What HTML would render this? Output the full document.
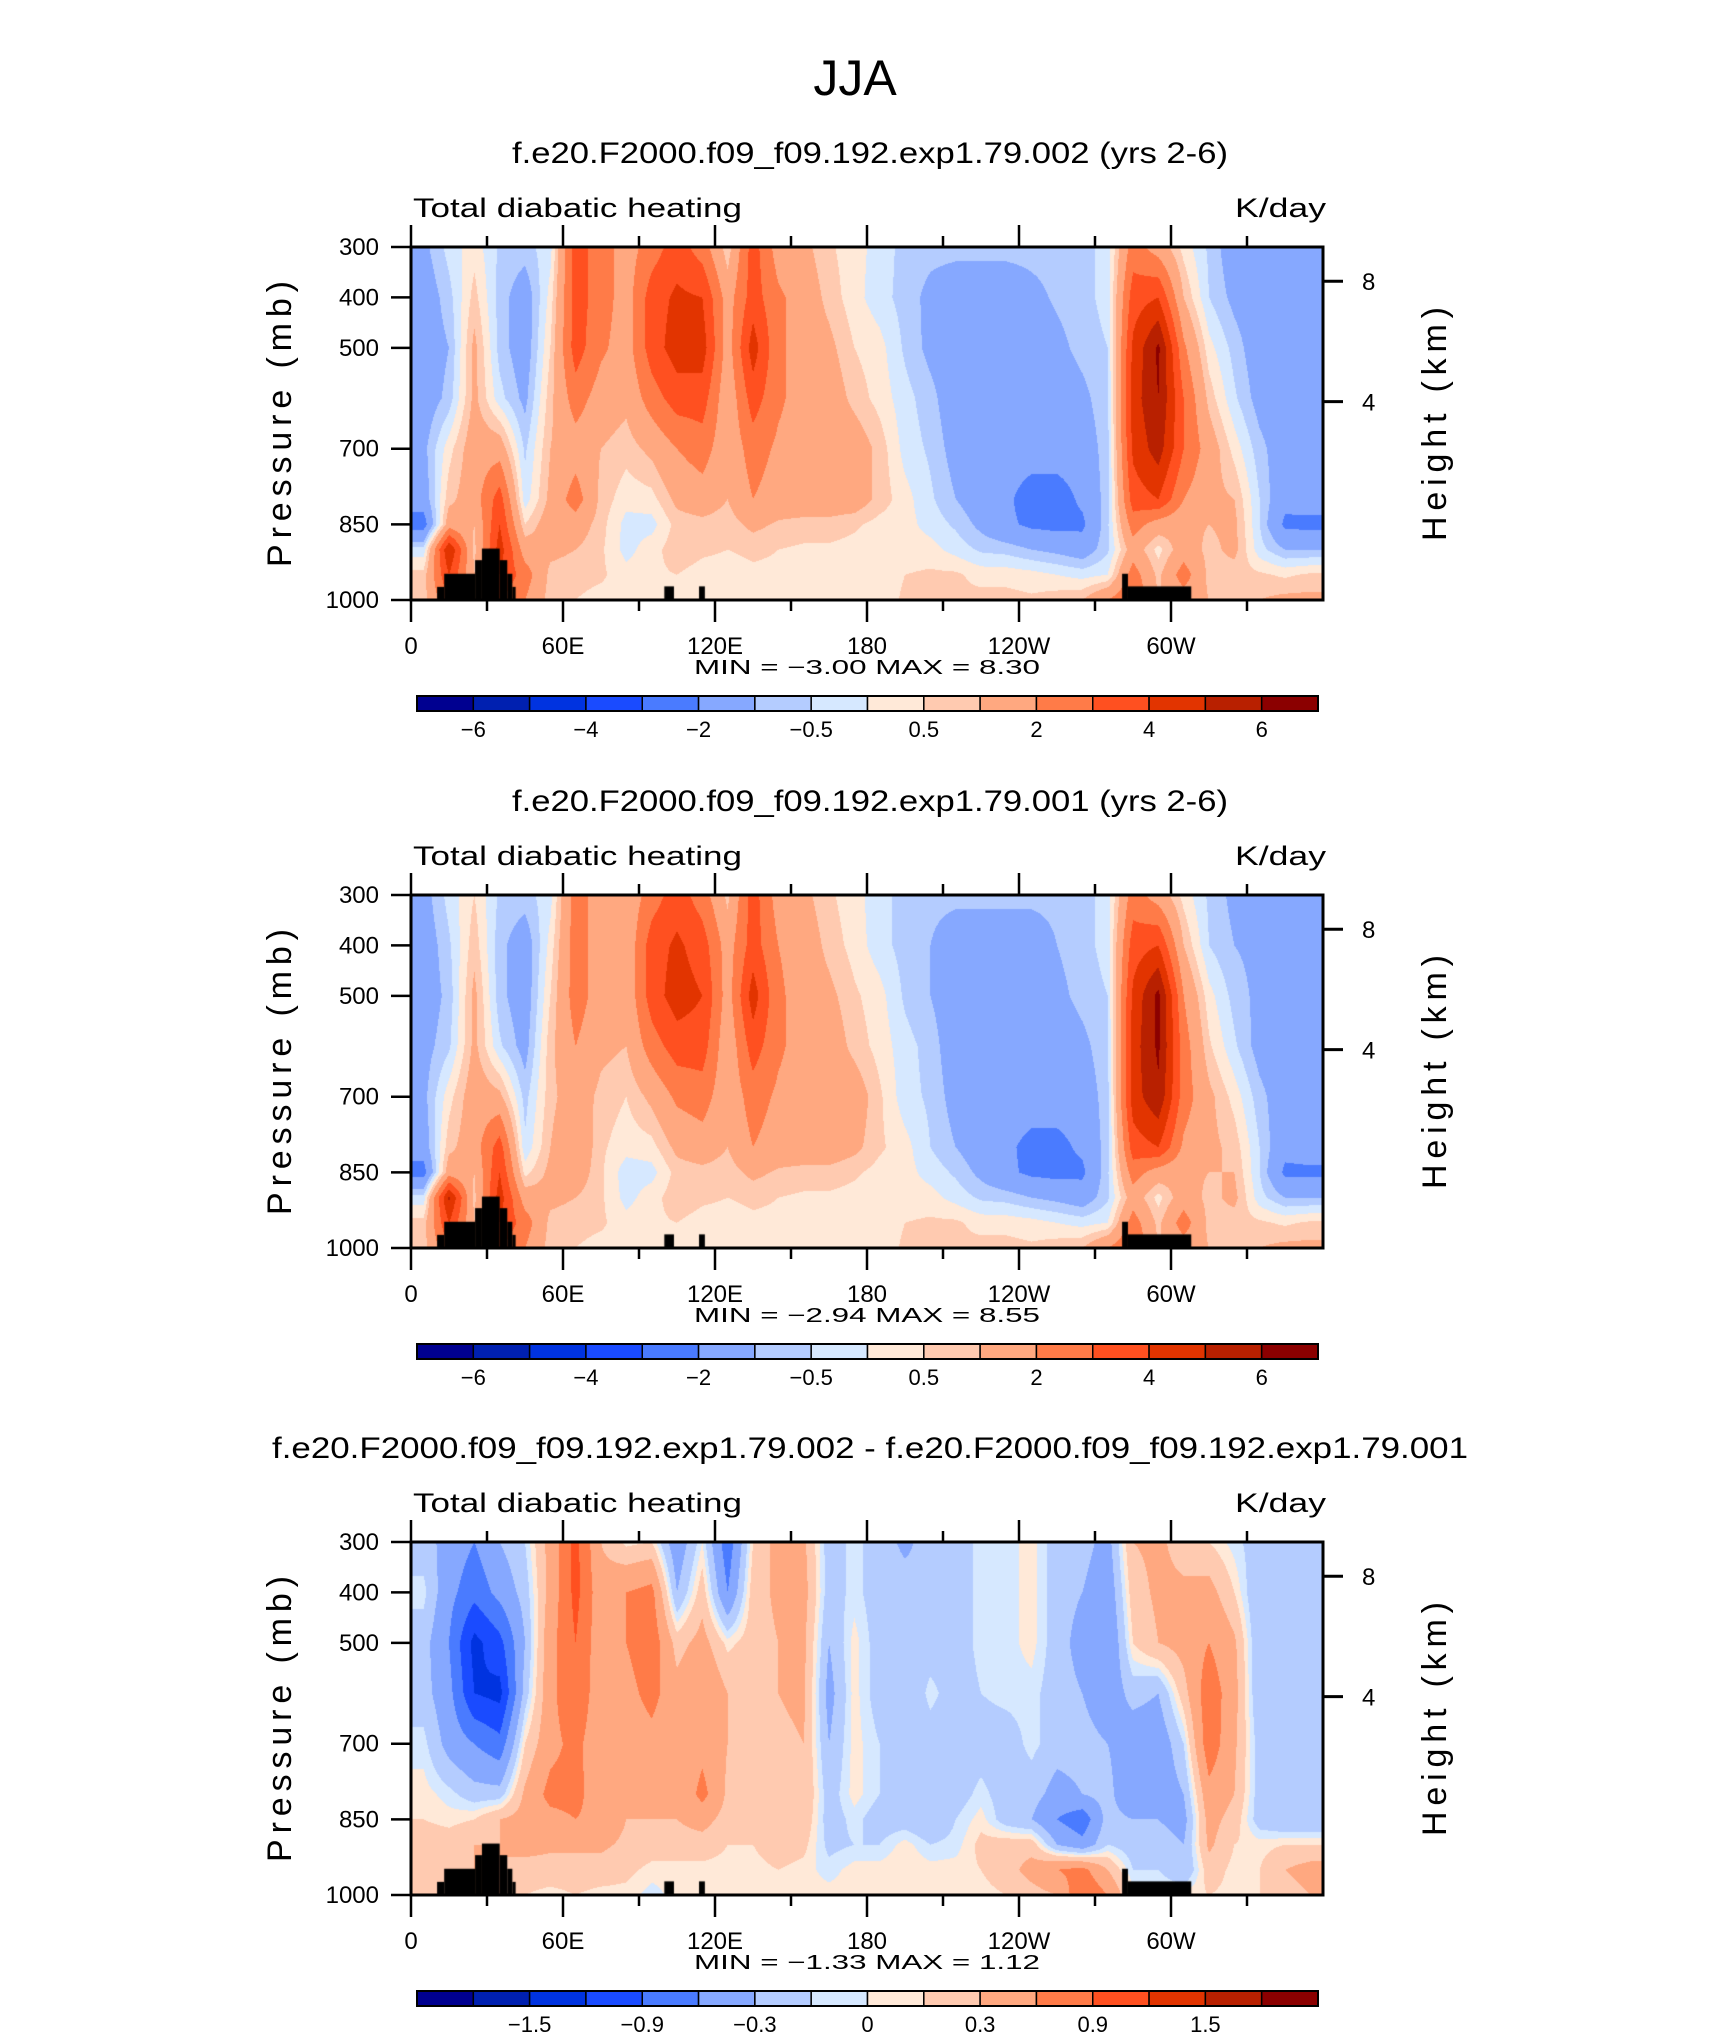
<!DOCTYPE html>
<html><head><meta charset="utf-8">
<style>
html,body{margin:0;padding:0;background:#fff;}
#wrap{position:relative;width:1710px;height:2038px;overflow:hidden;background:#fff;}
canvas{position:absolute;}
svg{position:absolute;left:0;top:0;}
text{font-family:"Liberation Sans",sans-serif;fill:#000;}
</style></head>
<body>
<div id="wrap">
<canvas id="c0" width="912" height="353" style="left:411px;top:247px"></canvas>
<canvas id="c1" width="912" height="353" style="left:411px;top:895px"></canvas>
<canvas id="c2" width="912" height="353" style="left:411px;top:1542px"></canvas>
<svg id="svg" width="1710" height="2038"></svg>
</div>
<script>
// ---- data ----
const lons = [5,15,25,35,45,55,65,75,85,95,105,115,125,135,145,155,165,175,185,195,205,215,225,235,245,255,265,275,285,295,305,315,325,335,345,355];
const levels = [300,400,500,600,700,800,850,900,950,1000];
const pressureTicks = [300,400,500,700,850,1000];
const lonTickValues = [0,60,120,180,240,300];
const lonTickLabels = ["0","60E","120E","180","120W","60W"];
const heightTicks = [8,4];
const contourLevelsFull = [-6,-5,-4,-3,-2,-1,-0.5,0,0.5,1,2,3,4,5,6];
const contourLevelsDiff = [-1.8,-1.5,-1.2,-0.9,-0.6,-0.3,-0.1,0,0.1,0.3,0.6,0.9,1.2,1.5,1.8];
const cbarLabelsFull = ["-6","","-4","","-2","","-0.5","","0.5","","2","","4","","6"];
const cbarLabelsDiff = ["","-1.5","","-0.9","","-0.3","","0","","0.3","","0.9","","1.5",""];
const palette = ["#000090","#0020b0","#0033e0","#1a4bff","#4a7bff","#86a8ff","#b4ccff","#d6e8ff","#ffe9d8","#ffcab0","#ffa880","#ff7b48","#ff5020","#e23400","#b82000","#8b0000"];
// topography blocks: [lonStart, lonEnd, pressureTop]
const topoStart = [10.3,13.1,25.3,28,35,38,40,100,113.7,280.7,283];
const topoEnd   = [13.1,25.3,28,35,38,40,41.3,103.8,116,283,308];
const topoTop   = [974,948,921,898,921,948,974,973,973,948,973];

const field002 = [
[-1.2,-1.5,-1.5,-1.5,-1.2,-1.5,-2.5,-0.3,0.7,0.7],
[-0.3,-0.7,-1.0,-0.8,0.3,0.8,1.5,5,4,3],
[0.3,0.7,1.2,1.2,1.5,1.5,1.0,0.8,1,1],
[-0.6,-0.7,-0.7,-0.3,1.5,3.5,4,4.5,4,3],
[-0.7,-1.5,-1.5,-1.2,-0.6,-0.3,0.5,1.5,2.5,2],
[-0.2,0.2,0.5,0.8,1.0,1.2,1.5,1.2,0.8,0.7],
[3.5,3.5,3.5,2.5,1.5,2.5,1.5,1,0.7,0.5],
[2.5,2.5,2.2,1.5,1.0,0.8,0.7,0.6,0.6,0.3],
[1.5,1.5,1.5,1.2,0.7,0.2,-0.2,-0.2,0.2,0.3],
[2.5,3.5,3.5,2.5,1.2,0.3,-0.2,0.3,0.4,0.4],
[3.5,4.2,4.5,3.5,2.0,1.2,0.7,0.8,0.5,0.3],
[2.5,4,4.5,3.5,2.5,1.5,0.8,0.6,0.3,0.3],
[0.6,1.5,1.5,1.2,1.2,1.0,0.7,0.5,0.3,0.3],
[3.5,3.5,4.5,3.5,2.5,2.0,1.2,0.6,0.4,0.3],
[1.5,2.2,2.2,2.2,1.8,1.5,0.9,0.5,0.4,0.3],
[1.2,1.5,1.5,1.5,1.5,1.5,0.8,0.4,0.3,0.3],
[0.6,0.8,1.2,1.5,1.5,1.5,0.8,0.4,0.3,0.3],
[0.2,0.2,0.5,0.8,1.5,1.5,0.6,0.3,0.3,0.3],
[-0.2,-0.3,0.2,0.3,0.8,0.8,0.3,0.2,0.2,0.2],
[-0.7,-0.7,-0.6,-0.3,-0.2,0.2,0.2,0.2,0.5,0.6],
[-0.8,-1.2,-1.2,-0.8,-0.6,-0.4,-0.2,0.2,0.6,0.6],
[-0.8,-1.5,-1.5,-1.5,-1.3,-1.0,-0.6,-0.2,0.6,0.6],
[-0.8,-1.5,-1.5,-1.5,-1.5,-1.5,-1.2,-0.6,0.3,0.7],
[-0.8,-1.5,-1.5,-1.5,-1.5,-1.8,-1.8,-0.7,0.3,0.7],
[-0.8,-1.2,-1.5,-1.5,-1.5,-2.5,-2.2,-1.0,0.2,0.6],
[-0.8,-0.9,-1.2,-1.5,-1.5,-2.5,-2.3,-1.2,0.0,0.8],
[-0.7,-0.7,-0.8,-1.2,-1.5,-1.8,-2.2,-1.5,-0.2,1.0],
[-0.3,-0.3,-0.5,-0.6,-0.7,-0.7,-0.6,-0.6,0,2.0],
[2.5,3.5,4.2,4.5,4.2,3.5,2.5,1.5,2.5,3],
[1.5,4,6.2,6,5.5,4,1.5,0.3,0.8,1.0],
[0.3,1,2.2,3,3,2.0,1.2,1.5,2.5,1.5],
[-0.6,-0.5,0.2,0.8,1.5,1.2,1.0,0.8,0.8,1.0],
[-1.5,-1.2,-0.7,-0.4,0.3,1.0,1.2,1.2,0.7,0.8],
[-1.5,-1.5,-1.5,-1.3,-0.8,-0.5,-0.5,-0.3,0.6,1.0],
[-1.5,-1.5,-1.5,-1.5,-1.5,-1.7,-2.2,-1.0,0.4,1.2],
[-1.5,-1.5,-1.5,-1.5,-1.5,-1.5,-2.3,-1.0,0.6,1.2]
];
const field001 = [
[-1.3,-1.5,-1.5,-1.3,-1.2,-1.5,-2.4,-0.3,0.7,0.7],
[-0.3,-0.6,-0.8,-0.6,0.3,0.8,1.5,5.2,4,3],
[0.5,0.8,1.2,1.2,1.5,1.5,1.0,0.8,1,1],
[-0.6,-0.8,-0.8,-0.4,1.2,3.5,4,4.5,4,3],
[-0.7,-1.5,-1.5,-1.3,-0.7,-0.4,0.3,1.5,2.5,2],
[-0.2,0.2,0.5,0.8,0.8,1.0,1.2,1.2,0.8,0.7],
[2.5,2.5,2.5,2.0,1.5,1.8,1.5,1,0.7,0.5],
[1.5,1.5,1.5,1.2,0.8,0.6,0.6,0.6,0.6,0.3],
[1.2,1.2,1.2,1.0,0.5,0.2,-0.3,-0.2,0.2,0.3],
[2.5,3.5,3.5,2.5,1.2,0.3,-0.2,0.3,0.4,0.4],
[3.5,4.2,4.5,3.5,2.2,1.2,0.7,0.8,0.5,0.3],
[2.5,3.5,4,3.5,2.5,1.5,0.8,0.6,0.3,0.3],
[0.8,1.5,1.5,1.2,1.2,1.0,0.7,0.5,0.3,0.3],
[3.5,3.5,4.5,3.5,2.5,2.0,1.2,0.6,0.4,0.3],
[1.5,2.0,2.2,2.2,1.8,1.5,0.9,0.5,0.4,0.3],
[1.2,1.5,1.5,1.5,1.5,1.5,0.8,0.4,0.3,0.3],
[0.6,0.8,1.2,1.5,1.5,1.5,0.8,0.4,0.3,0.3],
[0.2,0.3,0.6,0.8,1.5,1.2,0.6,0.3,0.3,0.3],
[-0.3,-0.3,0.2,0.3,0.6,0.6,0.3,0.2,0.2,0.2],
[-0.7,-0.7,-0.6,-0.3,-0.3,0.2,0.2,0.2,0.5,0.6],
[-0.8,-1.0,-1.0,-0.7,-0.6,-0.5,-0.2,0.2,0.6,0.6],
[-0.8,-1.5,-1.5,-1.5,-1.3,-1.0,-0.6,-0.2,0.6,0.6],
[-0.8,-1.5,-1.5,-1.5,-1.5,-1.5,-1.2,-0.6,0.3,0.7],
[-0.8,-1.5,-1.5,-1.5,-1.5,-1.8,-1.8,-0.7,0.3,0.7],
[-0.8,-1.5,-1.5,-1.5,-1.5,-2.3,-2.2,-1.0,0.2,0.6],
[-0.8,-1.0,-1.2,-1.5,-1.5,-2.3,-2.3,-1.2,0.0,0.8],
[-0.7,-0.7,-0.8,-1.2,-1.5,-1.8,-2.2,-1.5,-0.2,1.0],
[-0.3,-0.3,-0.5,-0.6,-0.7,-0.7,-0.6,-0.6,0,2.0],
[2.5,3.5,4.2,4.5,4.5,3.5,2.5,1.5,2.5,3],
[1.5,4,6.3,6.2,5.8,4,1.5,0.3,0.8,1.0],
[0.3,1,2.0,2.5,2.5,1.8,1.2,1.5,2.5,1.5],
[-0.6,-0.5,0.2,0.6,1.2,1.2,1.0,0.8,0.8,1.0],
[-1.2,-1.0,-0.7,-0.4,0.3,0.8,1.0,1.2,0.7,0.8],
[-1.5,-1.2,-1.2,-1.3,-0.8,-0.5,-0.5,-0.3,0.6,1.0],
[-1.5,-1.5,-1.5,-1.5,-1.5,-1.7,-2.2,-1.0,0.4,1.2],
[-1.5,-1.5,-1.5,-1.5,-1.5,-1.5,-2.2,-1.0,0.6,1.2]
];
const fieldDiff = [
[-0.2,-0.05,-0.2,-0.2,-0.05,0.05,0.1,0.2,0.15,0.1],
[-0.4,-0.5,-0.6,-0.5,-0.4,-0.05,0.05,0.2,0.2,0.1],
[-0.6,-0.8,-1.3,-1.2,-0.6,-0.2,0.1,0.3,0.3,0.3],
[-0.3,-0.5,-1.0,-1.3,-0.8,-0.2,0.3,0.3,0.3,0.3],
[-0.1,-0.2,-0.3,-0.2,0.1,0.35,0.4,0.4,0.2,0.1],
[0.4,0.4,0.5,0.5,0.5,0.7,0.5,0.35,0.2,0.05],
[1.0,1.0,0.9,0.9,0.7,0.7,0.6,0.35,0.2,0.1],
[0.3,0.4,0.4,0.35,0.35,0.4,0.5,0.35,0.2,0.05],
[0.05,0.6,0.6,0.5,0.4,0.35,0.3,0.25,0.15,0.05],
[0.1,0.7,0.8,0.7,0.5,0.35,0.3,0.2,0.05,-0.05],
[-0.5,-0.3,0.2,0.4,0.35,0.3,0.3,0.2,0.05,0.05],
[0.0,0.2,0.4,0.6,0.5,0.7,0.4,0.2,0.05,0.05],
[-0.8,-0.6,0.05,0.3,0.3,0.25,0.2,0.1,0.05,0.05],
[0.1,0.2,0.2,0.25,0.2,0.2,0.2,0.1,0.05,0.05],
[0.4,0.35,0.3,0.3,0.25,0.3,0.3,0.2,0.1,0.05],
[0.35,0.4,0.35,0.35,0.3,0.3,0.25,0.15,0.05,0.05],
[-0.2,-0.2,-0.3,-0.4,-0.3,-0.2,-0.2,-0.15,-0.05,0.05],
[-0.05,-0.05,0.05,0.05,0.05,0.05,-0.05,-0.1,0.05,0.05],
[-0.2,-0.2,-0.2,-0.2,-0.1,-0.1,-0.2,-0.1,0.05,0.05],
[-0.35,-0.2,-0.2,-0.3,-0.3,-0.2,-0.2,0.05,0.1,0.05],
[-0.2,-0.3,-0.2,-0.05,-0.2,-0.3,-0.3,-0.1,0.05,0.05],
[-0.2,-0.2,-0.2,-0.2,-0.2,-0.2,-0.1,-0.05,0.05,0.05],
[-0.05,-0.05,-0.05,-0.1,-0.2,-0.05,0.05,0.15,0.1,0.05],
[-0.05,-0.05,-0.05,-0.05,-0.2,-0.2,-0.2,0.2,0.2,0.1],
[0.05,0.05,0.05,-0.05,-0.05,-0.2,-0.3,0.2,0.4,0.2],
[-0.2,-0.2,-0.2,-0.2,-0.2,-0.4,-0.6,-0.3,0.6,0.3],
[-0.2,-0.3,-0.4,-0.3,-0.2,-0.3,-0.8,-0.5,0.7,0.9],
[-0.4,-0.5,-0.6,-0.5,-0.3,-0.2,-0.2,-0.1,0.3,0.6],
[0.3,0.2,0.1,-0.2,-0.5,-0.6,-0.3,-0.2,-0.1,0.05],
[0.35,0.35,0.3,-0.3,-0.5,-0.5,-0.3,-0.2,-0.1,0.05],
[0.2,0.35,0.4,0.2,-0.1,-0.3,-0.4,-0.3,-0.3,0.05],
[0.1,0.4,0.6,0.8,0.8,0.5,0.4,0.35,0.2,0.1],
[-0.05,0.1,0.35,0.4,0.35,0.3,0.2,0.1,0.05,0.05],
[-0.2,-0.3,-0.3,-0.3,-0.2,-0.2,-0.2,0.05,0.1,0.1],
[-0.3,-0.2,-0.3,-0.3,-0.3,-0.3,-0.3,0.1,0.3,0.2],
[-0.3,-0.2,-0.3,-0.3,-0.3,-0.3,-0.3,0.1,0.4,0.3]
];

// ---- layout ----
const PX0=411, PW=912, PH=353;
const panelTops=[247,895,1542];
const xScale = lon => lon/360*PW;
const yScale = p => (p-300)/700*PH;

function interp(field, lon, p){
  let fi;
  if(lon<=lons[0]) fi=0; else if(lon>=lons[lons.length-1]) fi=lons.length-1;
  else fi=(lon-lons[0])/(lons[1]-lons[0]);
  let fj=0;
  for(let j=0;j<levels.length-1;j++){
    if(p>=levels[j]&&p<=levels[j+1]){fj=j+(p-levels[j])/(levels[j+1]-levels[j]);break;}
    if(p>levels[levels.length-1]) fj=levels.length-1;
  }
  const i0=Math.floor(fi), i1=Math.min(i0+1,lons.length-1), tx=fi-i0;
  const j0=Math.floor(fj), j1=Math.min(j0+1,levels.length-1), ty=fj-j0;
  const a=field[i0][j0]*(1-tx)+field[i1][j0]*tx;
  const b=field[i0][j1]*(1-tx)+field[i1][j1]*tx;
  return a*(1-ty)+b*ty;
}
function hex(c){return [parseInt(c.substr(1,2),16),parseInt(c.substr(3,2),16),parseInt(c.substr(5,2),16)];}
const pal=palette.map(hex);
function drawField(id, field, lev){
  const cv=document.getElementById(id), ctx=cv.getContext('2d');
  const img=ctx.createImageData(PW,PH);
  for(let y=0;y<PH;y++){
    const p=300+(y+0.5)/PH*700;
    for(let x=0;x<PW;x++){
      const lon=(x+0.5)/PW*360;
      const v=interp(field,lon,p);
      let k=0; while(k<lev.length && v>=lev[k]) k++;
      const c=pal[k], o=(y*PW+x)*4;
      img.data[o]=c[0];img.data[o+1]=c[1];img.data[o+2]=c[2];img.data[o+3]=255;
    }
  }
  ctx.putImageData(img,0,0);
  ctx.fillStyle='#000';
  for(let t=0;t<topoStart.length;t++){
    const x0=xScale(topoStart[t]), x1=xScale(topoEnd[t]), y0=yScale(topoTop[t]);
    ctx.fillRect(x0,y0,x1-x0,PH-y0);
  }
}
drawField('c0',field002,contourLevelsFull);
drawField('c1',field001,contourLevelsFull);
drawField('c2',fieldDiff,contourLevelsDiff);

// ---- SVG axes & text ----
const svg=document.getElementById('svg'), NS='http://www.w3.org/2000/svg';
function el(tag,attrs,parent){const e=document.createElementNS(NS,tag);for(const k in attrs)e.setAttribute(k,attrs[k]);(parent||svg).appendChild(e);return e;}
function txt(s,attrs){const e=el('text',attrs);e.textContent=s;return e;}

let t=txt('JJA',{x:855,y:95,'text-anchor':'middle','font-size':50,'font-weight':300});



const titles=["f.e20.F2000.f09_f09.192.exp1.79.002 (yrs 2-6)","f.e20.F2000.f09_f09.192.exp1.79.001 (yrs 2-6)","f.e20.F2000.f09_f09.192.exp1.79.002 - f.e20.F2000.f09_f09.192.exp1.79.001"];
const titleW=[716,716,1196];
const minmax=["MIN =   \u22123.00   MAX =    8.30","MIN =   \u22122.94   MAX =    8.55","MIN =   \u22121.33   MAX =    1.12"];

for(let k=0;k<3;k++){
  const T=panelTops[k], off=T-247;
  const g=el('g',{});
  
  
  let e=el('text',{x:870,y:163+off,'text-anchor':'middle','font-size':30,textLength:titleW[k],lengthAdjust:'spacingAndGlyphs'},g);
  e.textContent=titles[k];
  
  
  e=el('text',{x:413,y:217+off,'font-size':27,textLength:329,lengthAdjust:'spacingAndGlyphs','font-weight':300},g);
  e.textContent='Total diabatic heating';
  
  
  e=el('text',{x:1326,y:217+off,'font-size':27,'text-anchor':'end',textLength:91,lengthAdjust:'spacingAndGlyphs','font-weight':300},g);
  e.textContent='K/day';
  
  
  e=el('rect',{x:PX0,y:T,width:PW,height:PH,fill:'none',stroke:'#000','stroke-width':3},g);
  
  
  for(let lon=0;lon<360;lon+=30){
    const major=lon%60===0, L=major?22:11, x=PX0+xScale(lon);
    el('line',{x1:x,y1:T,x2:x,y2:T-L,stroke:'#000','stroke-width':2.5},g);
    el('line',{x1:x,y1:T+PH,x2:x,y2:T+PH+L,stroke:'#000','stroke-width':2.5},g);
  }
  lonTickValues.forEach((v,i)=>{
    const e2=el('text',{x:PX0+xScale(v),y:654+off,'text-anchor':'middle','font-size':24},g);
    e2.textContent=lonTickLabels[i];
    
    
  });
  pressureTicks.forEach(p=>{
    const y=T+yScale(p);
    el('line',{x1:PX0,y1:y,x2:PX0-20,y2:y,stroke:'#000','stroke-width':2.5},g);
    const e2=el('text',{x:379,y:y+8,'text-anchor':'end','font-size':24},g);
    e2.textContent=String(p);
    
    
  });
  heightTicks.forEach(h=>{
    const p=1000*Math.exp(-h/8.0);
    const y=T+yScale(p);
    el('line',{x1:PX0+PW,y1:y,x2:PX0+PW+20,y2:y,stroke:'#000','stroke-width':3},g);
    const e2=el('text',{x:1362,y:y+9,'font-size':24},g);
    e2.textContent=String(h);
    
    
  });
  e=el('text',{x:0,y:0,'font-size':34,'text-anchor':'middle',transform:`translate(${291},${424+off}) rotate(-90)`,textLength:286,lengthAdjust:'spacing','font-weight':300},g);
  e.textContent='Pressure  (mb)';
  
  
  e=el('text',{x:0,y:0,'font-size':34,'text-anchor':'middle',transform:`translate(${1446},${424+off}) rotate(-90)`,textLength:234,lengthAdjust:'spacing','font-weight':300},g);
  e.textContent='Height  (km)';
  
  
  e=el('text',{x:694,y:674+off,'font-size':20,textLength:346,lengthAdjust:'spacingAndGlyphs'},g);
  e.textContent=minmax[k];
  
  
  const cb=el('g',{},g);
  
  
  const CX=417, CW=901, CY=696+off, CH=15, bw=CW/16;
  for(let i=0;i<16;i++){
    const r=el('rect',{x:CX+i*bw,y:CY,width:bw,height:CH,fill:palette[i],stroke:'#000','stroke-width':1.5},cb);
    
    
  }
  el('rect',{x:CX,y:CY,width:CW,height:CH,fill:'none',stroke:'#000','stroke-width':2},cb);
  const labs=k<2?cbarLabelsFull:cbarLabelsDiff;
  labs.forEach((s,i)=>{
    if(!s) return;
    const e2=el('text',{x:CX+(i+1)*bw,y:737+off,'text-anchor':'middle','font-size':22},cb);
    e2.textContent=s.replace('-','\u2212');
    
    
  });
}
</script>
</body></html>
